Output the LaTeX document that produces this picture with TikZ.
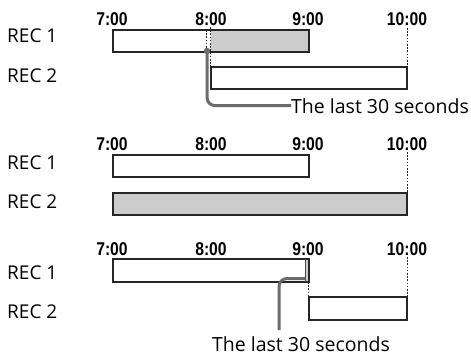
\documentclass[tikz,border=0pt]{standalone}
\usepackage{fontspec}
\setmainfont{Open Sans}
\newfontfamily\tfont{Liberation Sans}[FakeStretch=0.85]
\begin{document}
\begin{tikzpicture}[x=1pt,y=-1pt,
  bar/.style={draw=black!85,line width=1.2pt},
  shade/.style={fill=black!20},
  dots/.style={draw=black!85,line width=1pt,dash pattern=on 1.6pt off 1.6pt},
  lead/.style={draw=black!58,line width=3pt,rounded corners=8pt},
  rec/.style={anchor=base west,inner sep=0pt,font=\fontsize{19}{19}\selectfont},
  tlab/.style={anchor=base,inner sep=0pt,font=\tfont\bfseries\fontsize{18.5}{18.5}\selectfont},
  note/.style={inner sep=0pt,text depth=0pt,font=\fontsize{19.5}{19.5}\selectfont}]
\useasboundingbox (0,0) rectangle (471,357);
% ---------------- panel 1
\node[tlab] (a7) at (112,25) {7:00};
\node[tlab] (a8) at (211,25) {8:00};
\node[tlab] (a9) at (308,25) {9:00};
\node[tlab] (a10) at (407,25) {10:00};
\node[rec] (ar1) at (7,42) {REC 1};
\node[rec] (ar2) at (7,82) {REC 2};
\fill[shade] (210.5,30) rectangle (309,52);
\draw[bar] (113,30) rectangle (309,52);
\draw[dots] (206,30) -- (206,52);
\draw[dots] (210,27) -- (210,67);
\draw[bar] (211,67) rectangle (407,89);
\draw[dots] (407,28) -- (407,67);
\node[note,anchor=base west] (an) at (291,113) {The last 30 seconds};
\coordinate (as) at (207,51);
\draw[lead] (as) |- (an.west);
\fill[black!58] (as) circle (3.2);
% ---------------- panel 2
\node[tlab] (b7) at (112,150) {7:00};
\node[tlab] (b8) at (211,150) {8:00};
\node[tlab] (b9) at (308,150) {9:00};
\node[tlab] (b10) at (407,150) {10:00};
\node[rec] (br1) at (7,169) {REC 1};
\node[rec] (br2) at (7,208) {REC 2};
\draw[bar] (113,155) rectangle (309,177);
\draw[bar,shade] (113,193) rectangle (407,215);
\draw[dots] (407,152) -- (407,193);
% ---------------- panel 3
\node[tlab] (c7) at (112,255) {7:00};
\node[tlab] (c8) at (211,255) {8:00};
\node[tlab] (c9) at (308,255) {9:00};
\node[tlab] (c10) at (407,255) {10:00};
\node[rec] (cr1) at (7,279) {REC 1};
\node[rec] (cr2) at (7,318) {REC 2};
\fill[shade] (305,259) rectangle (309,282);
\draw[bar] (113,259) rectangle (309,282);
\draw[draw=black!70,line width=0.8pt] (305,259) -- (305,282);
\draw[dots] (308.5,282) -- (308.5,297);
\draw[bar] (309,297) rectangle (407,320);
\draw[dots] (407,257) -- (407,297);
\node[note,anchor=base] (cn) at (301,351) {The last 30 seconds};
\coordinate (cs) at (305,278.5);
\coordinate (ce) at (279,330);
\draw[lead] (cs) -| (ce);
\end{tikzpicture}
\end{document}
